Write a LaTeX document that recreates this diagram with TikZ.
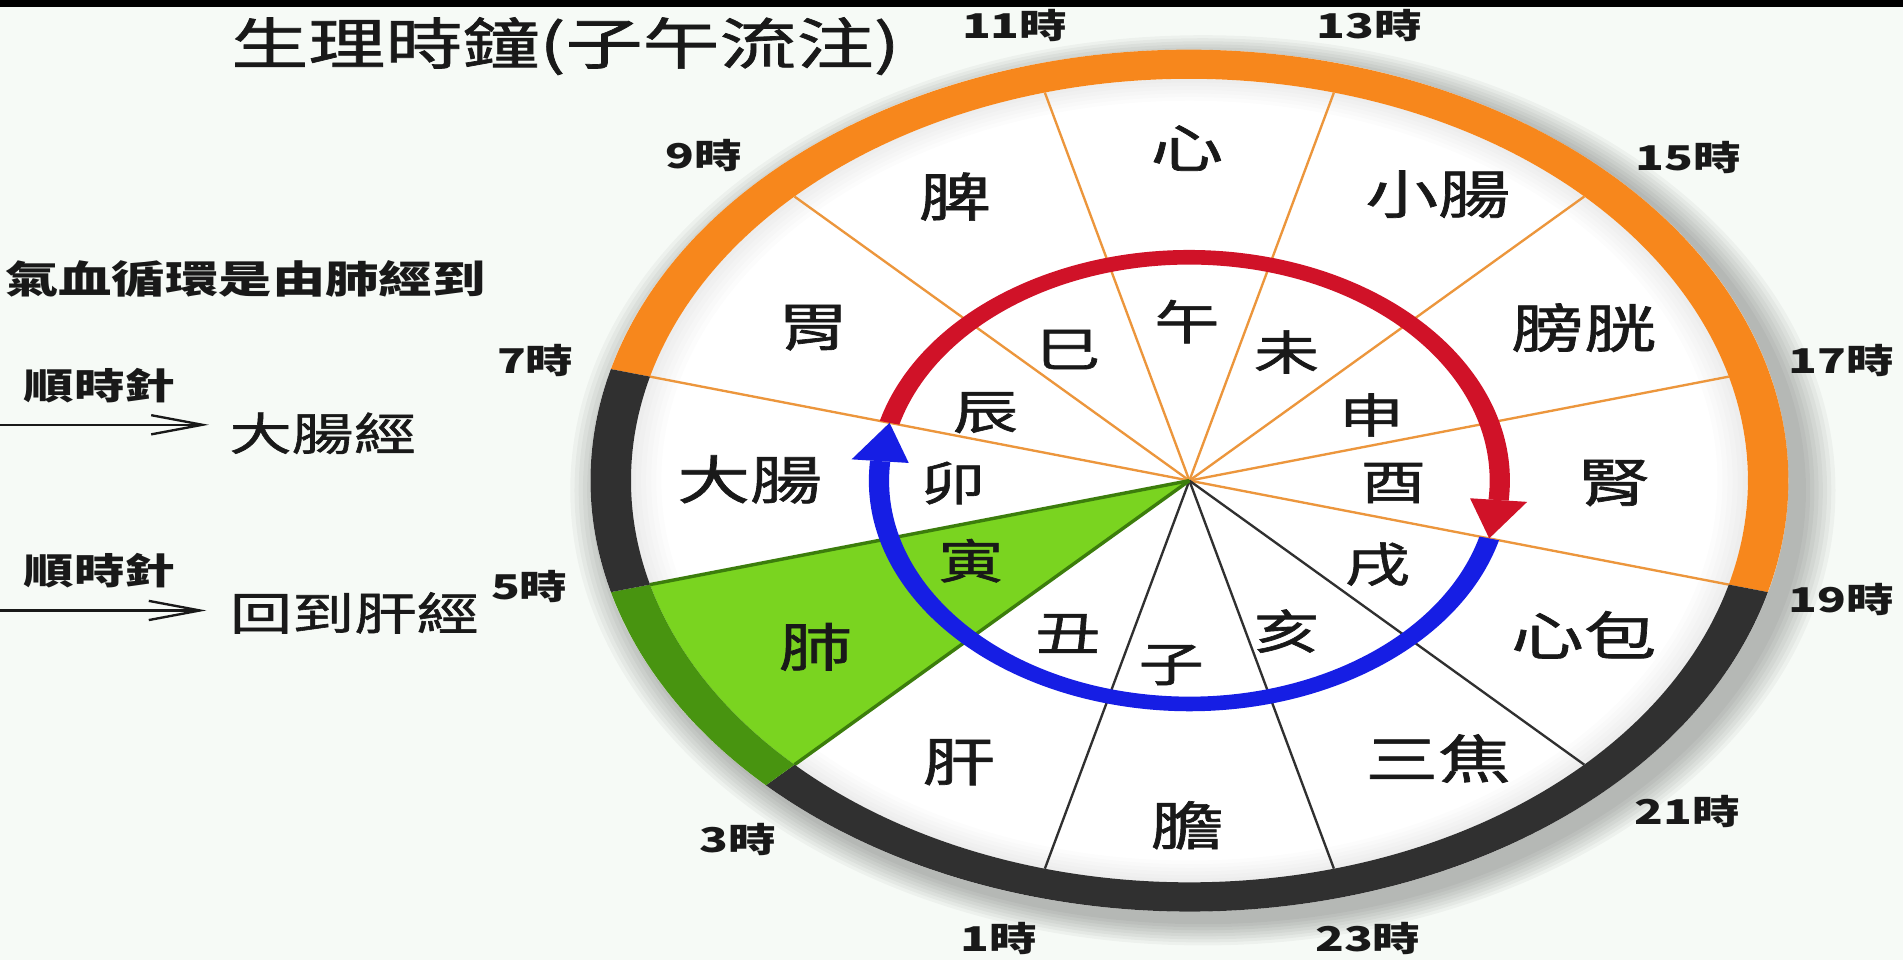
\documentclass[tikz,border=0pt]{standalone}
\usepackage{fontspec}
\newfontfamily\cjk[FakeStretch=1.39]{Noto Sans CJK TC}
\newfontfamily\cjkm[FakeStretch=1.39, FakeBold=1.3]{Noto Sans CJK TC}
\usetikzlibrary{arrows.meta}
\definecolor{bgc}{RGB}{246,250,246}
\definecolor{ink}{RGB}{25,25,25}
\definecolor{orng}{RGB}{247,135,28}
\definecolor{spko}{RGB}{236,150,60}
\definecolor{blk}{RGB}{48,48,48}
\definecolor{lgrn}{RGB}{122,212,32}
\definecolor{dgrn}{RGB}{72,148,16}
\definecolor{egrn}{RGB}{60,125,12}
\definecolor{redc}{RGB}{208,18,40}
\definecolor{bluc}{RGB}{22,30,228}
\newcommand\annsec[5]{\fill[#1] (#2:#5) arc[start angle=#2, end angle=#3, radius=#5] -- (#3:#4) arc[start angle=#3, end angle=#2, radius=#4] -- cycle;}
\begin{document}
\begin{tikzpicture}[x=0.02cm, y=-0.02cm,
  organ/.style={font=\cjkm\fontsize{24.5}{28}\selectfont, text=ink, inner sep=0pt},
  branch/.style={font=\cjkm\fontsize{22}{26}\selectfont, text=ink, inner sep=0pt},
  hour/.style={font=\cjk\bfseries\fontsize{16}{18}\selectfont, text=ink, inner sep=0pt},
  titlefont/.style={font=\cjkm\fontsize{26}{30}\selectfont, text=ink, inner sep=0pt},
  note/.style={font=\cjk\bfseries\fontsize{18}{22}\selectfont, text=ink, inner sep=0pt},
  cw/.style={font=\cjk\bfseries\fontsize{17}{20}\selectfont, text=ink, inner sep=0pt},
  dest/.style={font=\cjkm\fontsize{21}{25}\selectfont, text=ink, inner sep=0pt},
  spokeO/.style={draw=spko, line width=1.1pt},
  spokeK/.style={draw=blk, line width=1.1pt},
  spokeG/.style={draw=egrn, line width=1.6pt},
  leftarrow/.style={draw=ink, line width=1.2pt, -{Straight Barb[length=24pt, width=9pt, line width=1.1pt]}}
]
\useasboundingbox (0,0) rectangle (1568,791);
\fill[bgc] (0,0) rectangle (1568,791);
\fill[black] (0,0) rectangle (1568,6);

% clock
\begin{scope}[shift={(980,396)}, xscale=1.39, yscale=-1]
  % soft drop shadow
  \foreach \k [evaluate=\k as \rr using 355+\k*2.5] in {1,...,8}
    \fill[black, opacity=0.035] (8,-8) circle[radius=\rr];
  \fill[white] (0,0) circle[radius=355];
  % faint inner rim shading
  \foreach \k [evaluate=\k as \rr using 331-\k*3] in {1,...,6}
    \fill[black, opacity=0.012, even odd rule] (0,0) circle[radius=331] (0,0) circle[radius=\rr];
  % green wedge (lung)
  \fill[lgrn] (0,0) -- (195:331) arc[start angle=195, end angle=225, radius=331] -- cycle;
  % spokes
  \foreach \a in {165,135,105,75,45,15,-15} \draw[spokeO] (0,0) -- (\a:331);
  \foreach \a in {-45,-75,-105} \draw[spokeK] (0,0) -- (\a:331);
  \foreach \a in {195,225} \draw[spokeG] (0,0) -- (\a:331);
  % inner circulation ring
  \annsec{redc}{165}{-5}{178}{190}
  \fill[redc] (-15:184) -- (-5:167) -- (-5:201) -- cycle;
  \annsec{bluc}{-15}{-185}{178}{190}
  \fill[bluc] (165:184) -- (175:167) -- (175:201) -- cycle;
  % outer ring
  \annsec{orng}{165}{-15}{331}{355}
  \annsec{blk}{-15}{-135}{331}{355}
  \annsec{dgrn}{-135}{-165}{331}{355}
  \annsec{blk}{-165}{-195}{331}{355}
\end{scope}

% title
\node[titlefont] (title) at (466,38) {生理時鐘(子午流注)};

% left notes
\node[note, anchor=west] (note) at (4,230) {氣血循環是由肺經到};
\node[cw] (cw1) at (82,318) {順時針};
\node[cw] (cw2) at (82,470) {順時針};
\node[dest] (dest1) at (266,357) {大腸經};
\node[dest] (dest2) at (292,505) {回到肝經};
\coordinate (a1s) at (0,350);
\coordinate (a1e) at (172,350);
\coordinate (a2s) at (0,503);
\coordinate (a2e) at (170,503);
\draw[leftarrow] (a1s) -- (a1e);
\draw[leftarrow] (a2s) -- (a2e);

% hour labels
\node[hour] (h11) at (836,21) {11時};
\node[hour] (h13) at (1128,21) {13時};
\node[hour] (h9) at (580,128) {9時};
\node[hour] (h15) at (1391,130) {15時};
\node[hour] (h7) at (441,297) {7時};
\node[hour] (h17) at (1517,297) {17時};
\node[hour] (h5) at (436,483) {5時};
\node[hour] (h19) at (1517,494) {19時};
\node[hour] (h3) at (608,692) {3時};
\node[hour] (h21) at (1390,669) {21時};
\node[hour] (h1) at (823,773) {1時};
\node[hour] (h23) at (1127,773) {23時};

% organ labels
\node[organ] (o1) at (978,122) {心};
\node[organ] (o2) at (1185,160) {小腸};
\node[organ] (o3) at (1305,270) {膀胱};
\node[organ] (o4) at (1330,398) {腎};
\node[organ] (o5) at (1305,523) {心包};
\node[organ] (o6) at (1185,625) {三焦};
\node[organ] (o7) at (978,680) {膽};
\node[organ] (o8) at (790,628) {肝};
\node[organ] (o9) at (672,533) {肺};
\node[organ] (o10) at (618,395) {大腸};
\node[organ] (o11) at (670,270) {胃};
\node[organ] (o12) at (787,162) {脾};

% earthly branches
\node[branch] (b1) at (978,265) {午};
\node[branch] (b2) at (1060,290) {未};
\node[branch] (b3) at (1130,342) {申};
\node[branch] (b4) at (1148,398) {酉};
\node[branch] (b5) at (1135,465) {戌};
\node[branch] (b6) at (1060,520) {亥};
\node[branch] (b7) at (965,548) {子};
\node[branch] (b8) at (880,522) {丑};
\node[branch] (b9) at (800,462) {寅};
\node[branch] (b10) at (785,398) {卯};
\node[branch] (b11) at (812,340) {辰};
\node[branch] (b12) at (880,288) {巳};
\end{tikzpicture}
\end{document}
